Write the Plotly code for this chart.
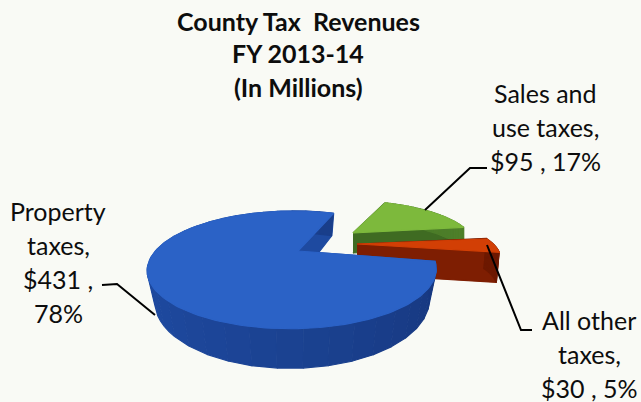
import numpy as np
import plotly.graph_objects as go

# Revenue by source, in millions of dollars
categories = ["Property taxes", "Sales and use taxes", "All other taxes"]
revenues = [431, 95, 30]
percents = [78, 17, 5]
title_lines = ["County Tax  Revenues", "FY 2013-14", "(In Millions)"]
slice_colors = ["#2B62C6", "#7DB93C", "#D23F05"]
wall_colors = ["#1E4AA0", "#3F6B22", "#7E1E02"]
wall_colors_far = ["#17387F", "#4E7F2A", "#6E1A02"]

WIDTH, HEIGHT = 641, 402
BG = "#F9FAF5"
START_DEG = -11.0       # right-hand edge of the property slice
PERSPECTIVE_V, PERSPECTIVE_U = 0.32, 0.041
RX, RY = 144.7, 52.8

# apex x, apex y, radius x, radius y, wall depth, wall scale x, wall scale y
SLICE_GEOMETRY = [
    (298, 251, 0.945, 1.00, 28, 0.95, 1.15),
    (353, 233, 0.84, 0.80, 20, 1.00, 1.00),
    (357, 244, 0.98, 0.80, 30, 0.98, 1.02),
]


def project(deg, ax, ay, sx, sy):
    """Map an angle on the tilted disc to plot coordinates."""
    t = np.radians(deg)
    u, v = np.cos(t), np.sin(t)
    k = 1 / (1 + PERSPECTIVE_V * v + PERSPECTIVE_U * u)
    return ax + RX * sx * u * k, ay - RY * sy * v * k


def mix(c1, c2, f):
    a = [int(c1[i:i + 2], 16) for i in (1, 3, 5)]
    b = [int(c2[i:i + 2], 16) for i in (1, 3, 5)]
    return "#" + "".join(f"{round(p + (q - p) * f):02x}" for p, q in zip(a, b))


def poly(xs, ys, color):
    return go.Scatter(x=list(xs), y=list(ys), mode="lines", fill="toself",
                      fillcolor=color, line=dict(color=color, width=1.2),
                      hoverinfo="skip", showlegend=False)


fig = go.Figure()

# Slice spans come from the revenue shares, running clockwise
shares = np.array(revenues) / sum(revenues) * 360
gap_start = START_DEG + shares[1] + shares[2]
spans = [
    (gap_start, gap_start + shares[0]),
    (gap_start, gap_start - shares[1]),
    (gap_start - shares[1], gap_start - shares[1] - shares[2]),
]

# Paint back to front: green, red, then the large blue slice
for idx in (1, 2, 0):
    ax, ay, rx, ry, depth, wx, wy = SLICE_GEOMETRY[idx]
    t0, t1 = spans[idx]
    bx, by = ax, ay + depth
    # radial walls
    for edge in (t0, t1):
        xa, ya = project(edge, ax, ay, rx, ry)
        xb, yb = project(edge, bx, by, rx * wx, ry * wy)
        fig.add_trace(poly([ax, xa, xb, bx], [ay, ya, yb, by], wall_colors[idx]))
    # curved outer wall, shaded in narrow strips
    edges = np.linspace(t0, t1, 37)
    for i in range(len(edges) - 1):
        arc = np.linspace(edges[i], edges[i + 1], 3)
        xa, ya = project(arc, ax, ay, rx, ry)
        xb, yb = project(arc[::-1], bx, by, rx * wx, ry * wy)
        lit = np.clip((np.cos(np.radians(edges[i])) + 1) / 2, 0, 1)
        fig.add_trace(poly(np.r_[xa, xb], np.r_[ya, yb],
                           mix(wall_colors[idx], wall_colors_far[idx], lit)))
    # top face
    arc = np.linspace(t0, t1, 181)
    xt, yt = project(arc, ax, ay, rx, ry)
    fig.add_trace(poly(np.r_[ax, xt, ax], np.r_[ay, yt, ay], slice_colors[idx]))

# Leader lines from the labels to the slices
leaders = [
    ([102, 117, 155], [285, 284, 315]),
    ([487, 470, 425], [168, 168, 210]),
    ([532, 521, 487], [330, 330, 245]),
]
for lx, ly in leaders:
    fig.add_trace(go.Scatter(x=lx, y=ly, mode="lines",
                             line=dict(color="black", width=2),
                             hoverinfo="skip", showlegend=False))

annotations = []


def add_text(text, x, y, bold=False):
    annotations.append(dict(text=f"<b>{text}</b>" if bold else text,
                            x=x, y=y, xref="x", yref="y", showarrow=False,
                            xanchor="center", yanchor="middle",
                            font=dict(family="Lato", size=25, color="#0d0d0d")))


for line, y in zip(title_lines, (21, 53, 87)):
    add_text(line, 298, y, bold=True)

label_rows = [
    (["Property", "taxes,", f"${revenues[0]} ,", f"{percents[0]}%"], 58, [211, 245, 279, 313]),
    (["Sales and", "use taxes,", f"${revenues[1]} , {percents[1]}%"], 545, [93, 127, 161]),
    (["All other", "taxes,", f"${revenues[2]} , {percents[2]}%"], 589, [320, 354, 388]),
]
for rows, x, ys in label_rows:
    for row, y in zip(rows, ys):
        add_text(row, x, y)

fig.update_layout(
    width=WIDTH, height=HEIGHT,
    margin=dict(l=0, r=0, t=0, b=0),
    paper_bgcolor=BG, plot_bgcolor=BG,
    xaxis=dict(range=[0, WIDTH], visible=False, fixedrange=True),
    yaxis=dict(range=[HEIGHT, 0], visible=False, fixedrange=True),
    annotations=annotations,
    showlegend=False,
)

fig.write_html("out.html", config=dict(displayModeBar=False))
